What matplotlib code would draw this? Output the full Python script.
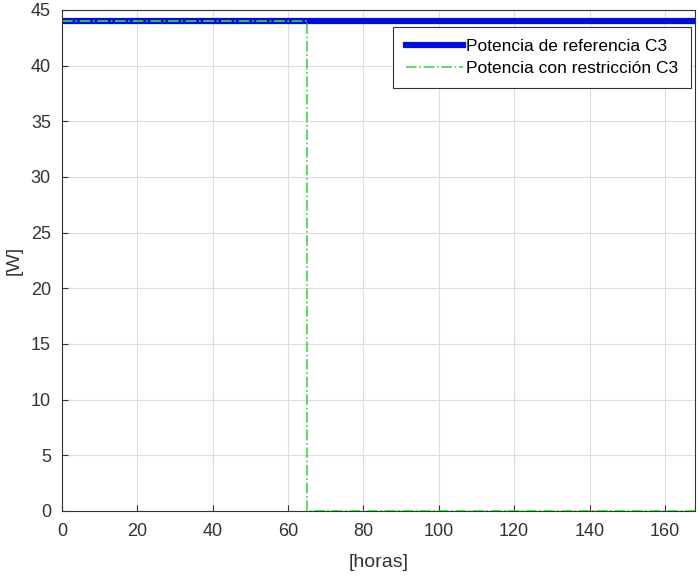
import numpy as np
import matplotlib.pyplot as plt

plt.rcParams['font.family'] = ['Liberation Sans', 'DejaVu Sans']

# datos
horas = [0, 65, 168]
p_ref = [44, 44, 44]
p_restr = [44, 0, 0]

fig = plt.figure(figsize=(6.99, 5.77), dpi=100)
ax = fig.add_axes([0.0887, 0.1144, 0.9056, 0.8683])

ax.plot(horas, p_ref, color='#0010d8', linewidth=4.5, drawstyle='steps-post',
        label='Potencia de referencia C3')
ax.plot(horas, p_restr, color='#44d444', linewidth=1.2, linestyle='-.',
        drawstyle='steps-post', label='Potencia con restricción C3')

ax.set_xlim(0, 168)
ax.set_ylim(0, 45)
ax.set_xticks(np.arange(0, 161, 20))
ax.set_yticks(np.arange(0, 46, 5))
ax.grid(True, color='#dddddd', linewidth=0.8)
ax.set_axisbelow(True)
ax.tick_params(direction='in', labelsize=13, colors='#333333', length=4)
ax.tick_params(axis='x', pad=9)
ax.tick_params(axis='y', pad=8)
for s in ax.spines.values():
    s.set_color('#333333')
    s.set_linewidth(0.8)

ax.set_xlabel('[horas]', fontsize=14, color='#333333', labelpad=10)
ax.set_ylabel('[W]', fontsize=14, color='#333333', labelpad=6)

leg = ax.legend(loc='upper right', bbox_to_anchor=(0.993, 0.967), fontsize=12.5,
                fancybox=False, framealpha=1, edgecolor='#333333',
                handlelength=3.3, borderpad=0.7, labelspacing=0.4,
                handletextpad=0.2, borderaxespad=0.0)
leg.get_frame().set_linewidth(0.8)

fig.savefig('out.png', dpi=100)
